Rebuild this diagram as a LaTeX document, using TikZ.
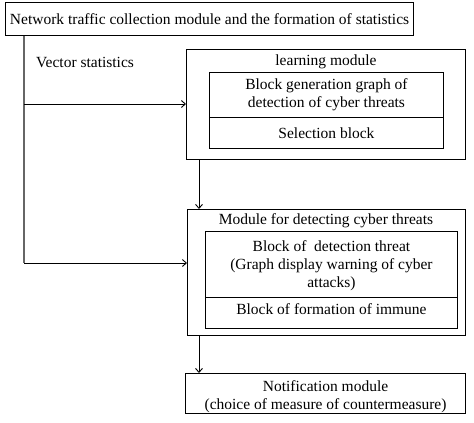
\documentclass[tikz,border=0pt]{standalone}
\usepackage{fontspec}
\setmainfont{Liberation Serif}
\usetikzlibrary{arrows.meta}
\begin{document}
\begin{tikzpicture}[x=1pt,y=-1pt,
  every node/.style={font=\fontsize{15.5}{18}\selectfont, inner sep=0pt, align=center},
  outerbox/.style={draw, line width=1.1pt, rectangle, anchor=north west},
  innerbox/.style={draw, line width=0.9pt, rectangle, anchor=north west},
  label/.style={anchor=center},
  conn/.style={line width=0.9pt, -{Straight Barb[length=4pt,width=7pt]}},
  feed/.style={line width=1.4pt, draw=black!60}]
\useasboundingbox (0,0) rectangle (474,423);
% top box
\node[outerbox, minimum width=408pt, minimum height=33pt] (top) at (5,2) {};
\node[label] (toptext) at (top.center) {Network traffic collection module and the formation of statistics};
\node[anchor=west] (vec) at (36,62) {Vector statistics};
% learning module
\node[outerbox, minimum width=279pt, minimum height=110pt] (learn) at (186,49) {};
\node[label] (learntitle) at (326,62) {learning module};
\node[innerbox, minimum width=234pt, minimum height=45pt] (lgraph) at (209,72) {};
\node[label] (lgraphtext) at (lgraph.center) {Block generation graph of\\detection of cyber threats};
\node[innerbox, minimum width=234pt, minimum height=31pt] (lsel) at (209,117) {};
\node[label] (lseltext) at (lsel.center) {Selection block};
% detection module
\node[outerbox, minimum width=278pt, minimum height=126pt] (detect) at (187,209) {};
\node[label] (detecttitle) at (326,221) {Module for detecting cyber threats};
\node[innerbox, minimum width=252pt, minimum height=66pt] (dthreat) at (205,231) {};
\node[label] (dthreattext) at ([yshift=-1pt]dthreat.center) {Block of\ \ detection threat\\(Graph display warning of cyber\\attacks)};
\node[innerbox, minimum width=252pt, minimum height=31pt] (dimm) at (205,297) {};
\node[label] (dimmtext) at ([yshift=4pt]dimm.center) {Block of formation of immune};
% notification
\node[outerbox, minimum width=280pt, minimum height=40pt] (notif) at (185,373) {};
\node[label] (notiftext) at ([yshift=-3pt]notif.center) {Notification module\\(choice of measure of countermeasure)};
% connectors
\coordinate (v1) at (24,104);
\coordinate (v2) at (24,263);
\coordinate (d1) at (199,0);
\draw[feed] (top.south -| v1) -- (v2);
\draw[conn] (v1) -- (learn.west |- v1);
\draw[conn] (v2) -- (detect.west |- v2);
\draw[conn] (learn.south -| d1) -- (detect.north -| d1);
\draw[conn] (detect.south -| d1) -- (notif.north -| d1);
\end{tikzpicture}
\end{document}
